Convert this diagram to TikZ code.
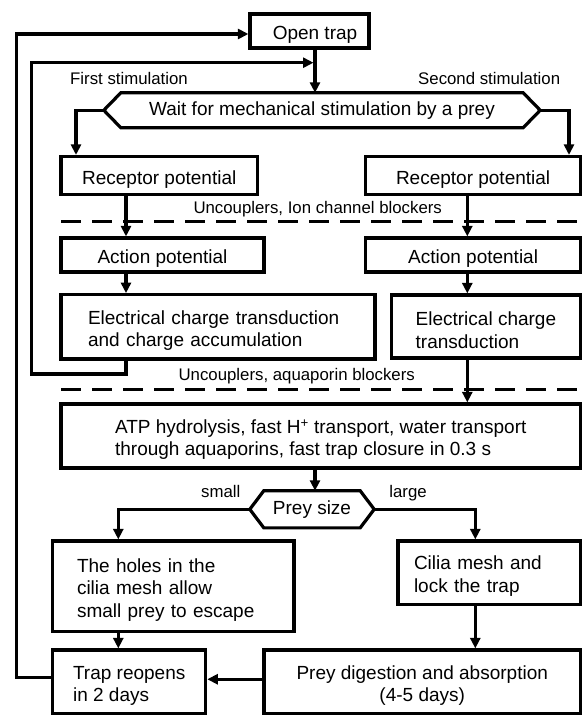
\documentclass[tikz,border=0pt]{standalone}
\usepackage{fontspec}
\setmainfont{Liberation Sans}
\usetikzlibrary{arrows.meta}
\newcommand{\upstrut}{\rule{0pt}{21pt}}
\begin{document}
\begin{tikzpicture}[x=1pt,y=-1pt,
  box/.style={draw, line width=3.2pt, inner sep=0pt, font=\fontsize{19}{22.5}\selectfont,
    execute at begin node={\upstrut}},
  hexnode/.style={inner sep=0pt, font=\fontsize{19}{22.5}\selectfont},
  lbl/.style={inner sep=0pt, font=\fontsize{16.8}{20}\selectfont, anchor=base west},
  arr/.style={line width=3.2pt, -{Triangle[length=10.5pt,width=10pt]}},
  hexa/.style={line width=3.2pt},
  sepline/.style={line width=3pt, dash pattern=on 20pt off 11pt}]
\useasboundingbox (0,0) rectangle (583,715);

% vertical axes of connectors
\coordinate (cM) at (315,0);
\coordinate (cL) at (126,0);
\coordinate (cR) at (467.3,0);
\coordinate (cA) at (76,0);
\coordinate (cB) at (569,0);
\coordinate (cS) at (118.3,0);
\coordinate (cG) at (475.3,0);

% boxes
\node[box, minimum width=119pt, minimum height=34pt] (open) at (309.5,31) {\hspace*{11pt}Open trap};

\node[hexnode, minimum width=402pt, minimum height=34.5pt] (wait) at (322,110.25) {Wait for mechanical stimulation by a prey};
\draw[hexa] (wait.north west) -- (wait.north east) -- ([xshift=17pt]wait.east) -- (wait.south east) -- (wait.south west) -- ([xshift=-17pt]wait.west) -- cycle;
\coordinate (waitL) at ([xshift=-17pt]wait.west);
\coordinate (waitR) at ([xshift=17pt]wait.east);

\node[box, minimum width=196.5pt, minimum height=38pt] (recL) at (159.25,175.5) {Receptor potential};
\node[box, minimum width=214.8pt, minimum height=38pt] (recR) at (473.1,175.5) {Receptor potential};
\node[box, minimum width=203pt, minimum height=34pt] (actL) at (162.5,255) {Action potential};
\node[box, minimum width=214.8pt, minimum height=34pt] (actR) at (473.1,255) {Action potential};
\node[box, minimum width=314pt, minimum height=64.3pt, text width=260pt, align=left] (ectL) at (218,326.85) {Electrical charge transduction\\and charge accumulation};
\node[box, minimum width=189.2pt, minimum height=63pt, align=left] (ectR) at (485.9,326.5) {\upstrut Electrical charge\\transduction};
\node[box, minimum width=519.5pt, minimum height=64pt, align=left] (atp) at (320.75,436) {\upstrut ATP hydrolysis, fast H\textsuperscript{+} transport, water transport\\through aquaporins, fast trap closure in 0.3 s};

\node[hexnode, minimum width=96pt, minimum height=36.7pt] (prey) at (312,509.3) {Prey size};
\draw[hexa] (prey.north west) -- (prey.north east) -- ([xshift=14pt]prey.east) -- (prey.south east) -- (prey.south west) -- ([xshift=-14pt]prey.west) -- cycle;
\coordinate (preyL) at ([xshift=-14pt]prey.west);
\coordinate (preyR) at ([xshift=14pt]prey.east);

\node[box, minimum width=241.3pt, minimum height=90.7pt, text width=192.7pt, align=left] (holes) at (173.35,586.35) {The holes in the\\cilia mesh allow\\small prey to escape};
\node[box, minimum width=182.5pt, minimum height=63.3pt, text width=150.5pt, align=left] (cilia) at (489.25,572.65) {Cilia mesh and\\lock the trap};
\node[box, minimum width=153pt, minimum height=63.5pt, align=left] (trap) at (129.2,681.75) {\upstrut Trap reopens\\in 2 days};
\node[box, minimum width=316.5pt, minimum height=63.5pt, align=center] (digest) at (422.25,681.75) {\upstrut Prey digestion and absorption\\(4-5 days)};

% separating dashed lines
\draw[sepline] (61,221.7) -- (583,221.7);
\draw[sepline] (61,389.5) -- (583,389.5);

% labels
\node[lbl] (lfirst) at (70,84) {First stimulation};
\node[lbl] (lsecond) at (418,84) {Second stimulation};
\node[lbl] (lunc1) at (193.3,213.5) {Uncouplers, Ion channel blockers};
\node[lbl] (lunc2) at (178.4,380.7) {Uncouplers, aquaporin blockers};
\node[lbl] (lsmall) at (201,497) {small};
\node[lbl] (llarge) at (389.2,497) {large};

% loop coordinates
\coordinate (li1) at (31.7,374);
\coordinate (li2) at (313.5,62.7);
\coordinate (lo1) at (16.7,34);

% connectors
\draw[arr] (open.south -| cM) -- (wait.north -| cM);
\draw[arr] (waitL) -| (recL.north -| cA);
\draw[arr] (waitR) -| (recR.north -| cB);
\draw[arr] (recL.south -| cL) -- (actL.north -| cL);
\draw[arr] (actL.south -| cL) -- (ectL.north -| cL);
\draw[arr] (recR.south -| cR) -- (actR.north -| cR);
\draw[arr] (actR.south -| cR) -- (ectR.north -| cR);
\draw[arr] (ectR.south -| cR) -- (atp.north -| cR);
\draw[arr] (ectL.south -| cL) |- (li1) |- (li2);
\draw[arr] ([yshift=4pt]trap.west) -| (lo1) -- ([yshift=-3pt]open.west);
\draw[arr] (atp.south -| cM) -- (prey.north -| cM);
\draw[arr] (preyL) -| (holes.north -| cS);
\draw[arr] (preyR) -| (cilia.north -| cG);
\draw[arr] (holes.south -| cS) -- (trap.north -| cS);
\draw[arr] (cilia.south -| cG) -- (digest.north -| cG);
\draw[arr] ([yshift=2.5pt]digest.west) -- ([yshift=2.5pt]digest.west -| trap.east);
\end{tikzpicture}
\end{document}
